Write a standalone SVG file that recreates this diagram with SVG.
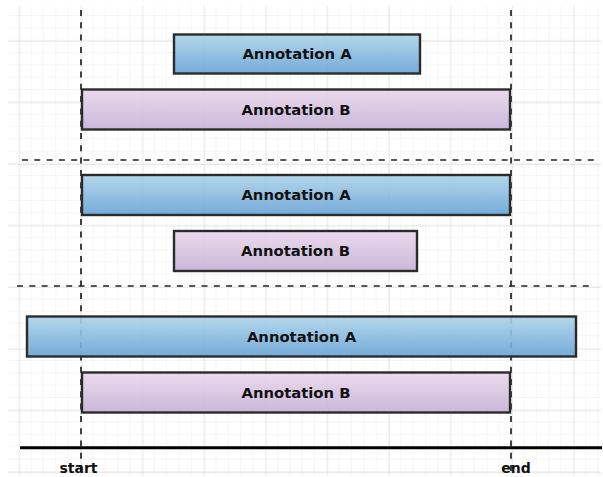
<svg xmlns="http://www.w3.org/2000/svg" width="603" height="477" viewBox="0 0 603 477">
  <defs>
    <!-- minor grid cell -->
    <pattern id="minor" patternUnits="userSpaceOnUse" x="7" y="3.7" width="12.32" height="12.32">
      <path d="M12.32 0V12.32M0 12.32H12.32" fill="none" stroke="#ececec" stroke-width="1"/>
    </pattern>
    <!-- major grid cell, every five minor cells -->
    <pattern id="major" patternUnits="userSpaceOnUse" x="19.3" y="40.7" width="61.6" height="61.6">
      <path d="M0 0V61.6M0 0H61.6" fill="none" stroke="#e0e0e0" stroke-width="1.3"/>
    </pattern>
    <linearGradient id="blue" x1="0" y1="0" x2="0" y2="1">
      <stop offset="0" stop-color="#abd3e8"/>
      <stop offset="1" stop-color="#67a2d6"/>
    </linearGradient>
    <linearGradient id="purple" x1="0" y1="0" x2="0" y2="1">
      <stop offset="0" stop-color="#e9d6ea"/>
      <stop offset="1" stop-color="#c4b1d6"/>
    </linearGradient>
    <style>
      .box { stroke: #2b2b2b; stroke-width: 2.4; fill-opacity: 0.9; }
      .a { fill: url(#blue); }
      .b { fill: url(#purple); }
      .lbl { font-family: "DejaVu Sans", Verdana, sans-serif; font-weight: bold; font-size: 14.8px; fill: #111; text-anchor: middle; }
      .axis-lbl { font-family: "DejaVu Sans", Verdana, sans-serif; font-weight: bold; font-size: 14px; fill: #111; text-anchor: middle; }
      .guide { stroke: #222; stroke-width: 1.7; stroke-dasharray: 6 6.3; fill: none; }
    </style>
  </defs>

  <rect width="603" height="477" fill="#fff"/>
  <!-- background grid -->
  <rect x="8" y="6" width="593" height="470" fill="url(#minor)"/>
  <rect x="8" y="6" width="593" height="470" fill="url(#major)"/>

  <!-- guides: horizontal section separators -->
  <g id="connectors">
    <line class="guide" x1="22" y1="160" x2="594" y2="160"/>
    <line class="guide" x1="17" y1="286" x2="590" y2="286"/>
    <!-- start / end markers -->
    <line class="guide" x1="81" y1="10" x2="81" y2="477"/>
    <line class="guide" x1="511" y1="10" x2="511" y2="477"/>
    <!-- time axis -->
    <line x1="20" y1="447.7" x2="602" y2="447.7" stroke="#000" stroke-width="3"/>
  </g>

  <g id="top-a">
    <rect class="box a" x="174" y="34.5" width="246" height="39"/>
    <text class="lbl" x="297" y="59.3">Annotation A</text>
  </g>
  <g id="top-b">
    <rect class="box b" x="82" y="89.5" width="428" height="40"/>
    <text class="lbl" x="296" y="114.8">Annotation B</text>
  </g>

  <g id="mid-a">
    <rect class="box a" x="82" y="175" width="428" height="40"/>
    <text class="lbl" x="296" y="200.3">Annotation A</text>
  </g>
  <g id="mid-b">
    <rect class="box b" x="174" y="231" width="243" height="40"/>
    <text class="lbl" x="295.5" y="256.3">Annotation B</text>
  </g>

  <g id="bottom-a">
    <rect class="box a" x="27" y="316.5" width="549" height="40"/>
    <text class="lbl" x="301.5" y="341.8">Annotation A</text>
  </g>
  <g id="bottom-b">
    <rect class="box b" x="82" y="372.5" width="428" height="40"/>
    <text class="lbl" x="296" y="397.8">Annotation B</text>
  </g>

  <g id="axis-labels">
    <text class="axis-lbl" x="78.5" y="473">start</text>
    <text class="axis-lbl" x="516" y="473">end</text>
  </g>
</svg>
